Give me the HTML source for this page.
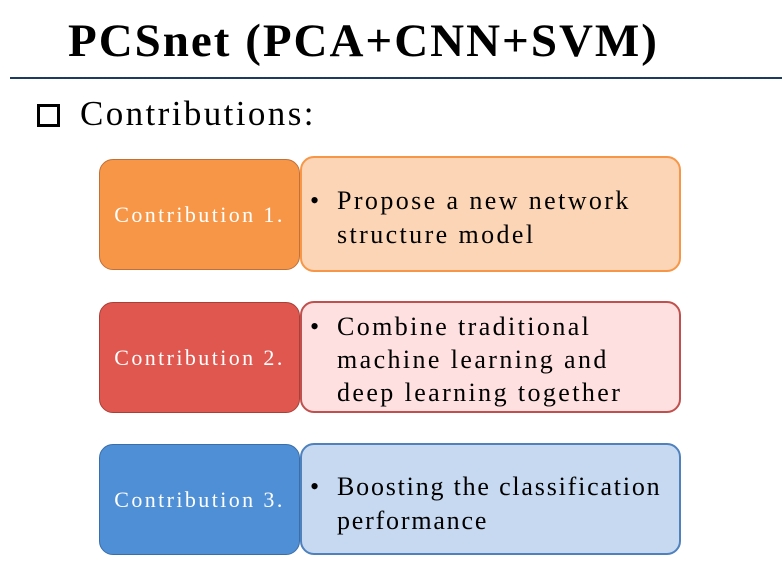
<!DOCTYPE html>
<html><head><style>
body{margin:0;width:782px;height:588px;background:#fff;position:relative;overflow:hidden;font-family:"Liberation Serif",serif}
.t{position:absolute;left:68px;top:14px;font-size:47px;font-weight:bold;white-space:nowrap;letter-spacing:2px}
.line{position:absolute;left:10px;top:77px;width:772px;height:2px;background:#1f3a5f}
.sq{position:absolute;left:37px;top:104px;width:17px;height:17px;border:3px solid #000}
.c{position:absolute;left:80px;top:94px;font-size:35px;letter-spacing:2.4px}
.l{position:absolute;left:99px;width:201px;height:111px;border-radius:14px;box-sizing:border-box;color:#fff;font-size:22px;letter-spacing:2.4px;display:flex;align-items:center;justify-content:center;white-space:nowrap}
.r{position:absolute;left:300px;width:381px;border-radius:14px;box-sizing:border-box;font-size:26px;letter-spacing:2.4px;line-height:34px;padding:26px 6px 0 35px;border:2px solid;white-space:nowrap}
.r span{position:absolute;left:8px}
</style></head><body>
<div class="t">PCSnet (PCA+CNN+SVM)</div>
<div class="line"></div>
<div class="sq"></div>
<div class="c">Contributions:</div>

<div class="l" style="top:159px;background:#f79646;border:1px solid #c0703a">Contribution 1.</div>
<div class="r" style="top:156px;height:116px;background:#fbd5b5;border-color:#f79646"><span>•</span>Propose a new network<br>structure model</div>

<div class="l" style="top:302px;background:#e0574f;border:1px solid #a84038">Contribution 2.</div>
<div class="r" style="top:301px;height:112px;background:#fde0df;border-color:#c0504d;padding-top:7px;line-height:33px"><span style="top:7px">•</span>Combine traditional<br>machine learning and<br>deep learning together</div>

<div class="l" style="top:444px;background:#4f8fd6;border:1px solid #3a6ea8">Contribution 3.</div>
<div class="r" style="top:443px;height:112px;background:#c6d9f1;border-color:#4f81bd;padding-top:25px;letter-spacing:1.8px"><span style="top:25px">•</span>Boosting the classification<br>performance</div>
</body></html>
